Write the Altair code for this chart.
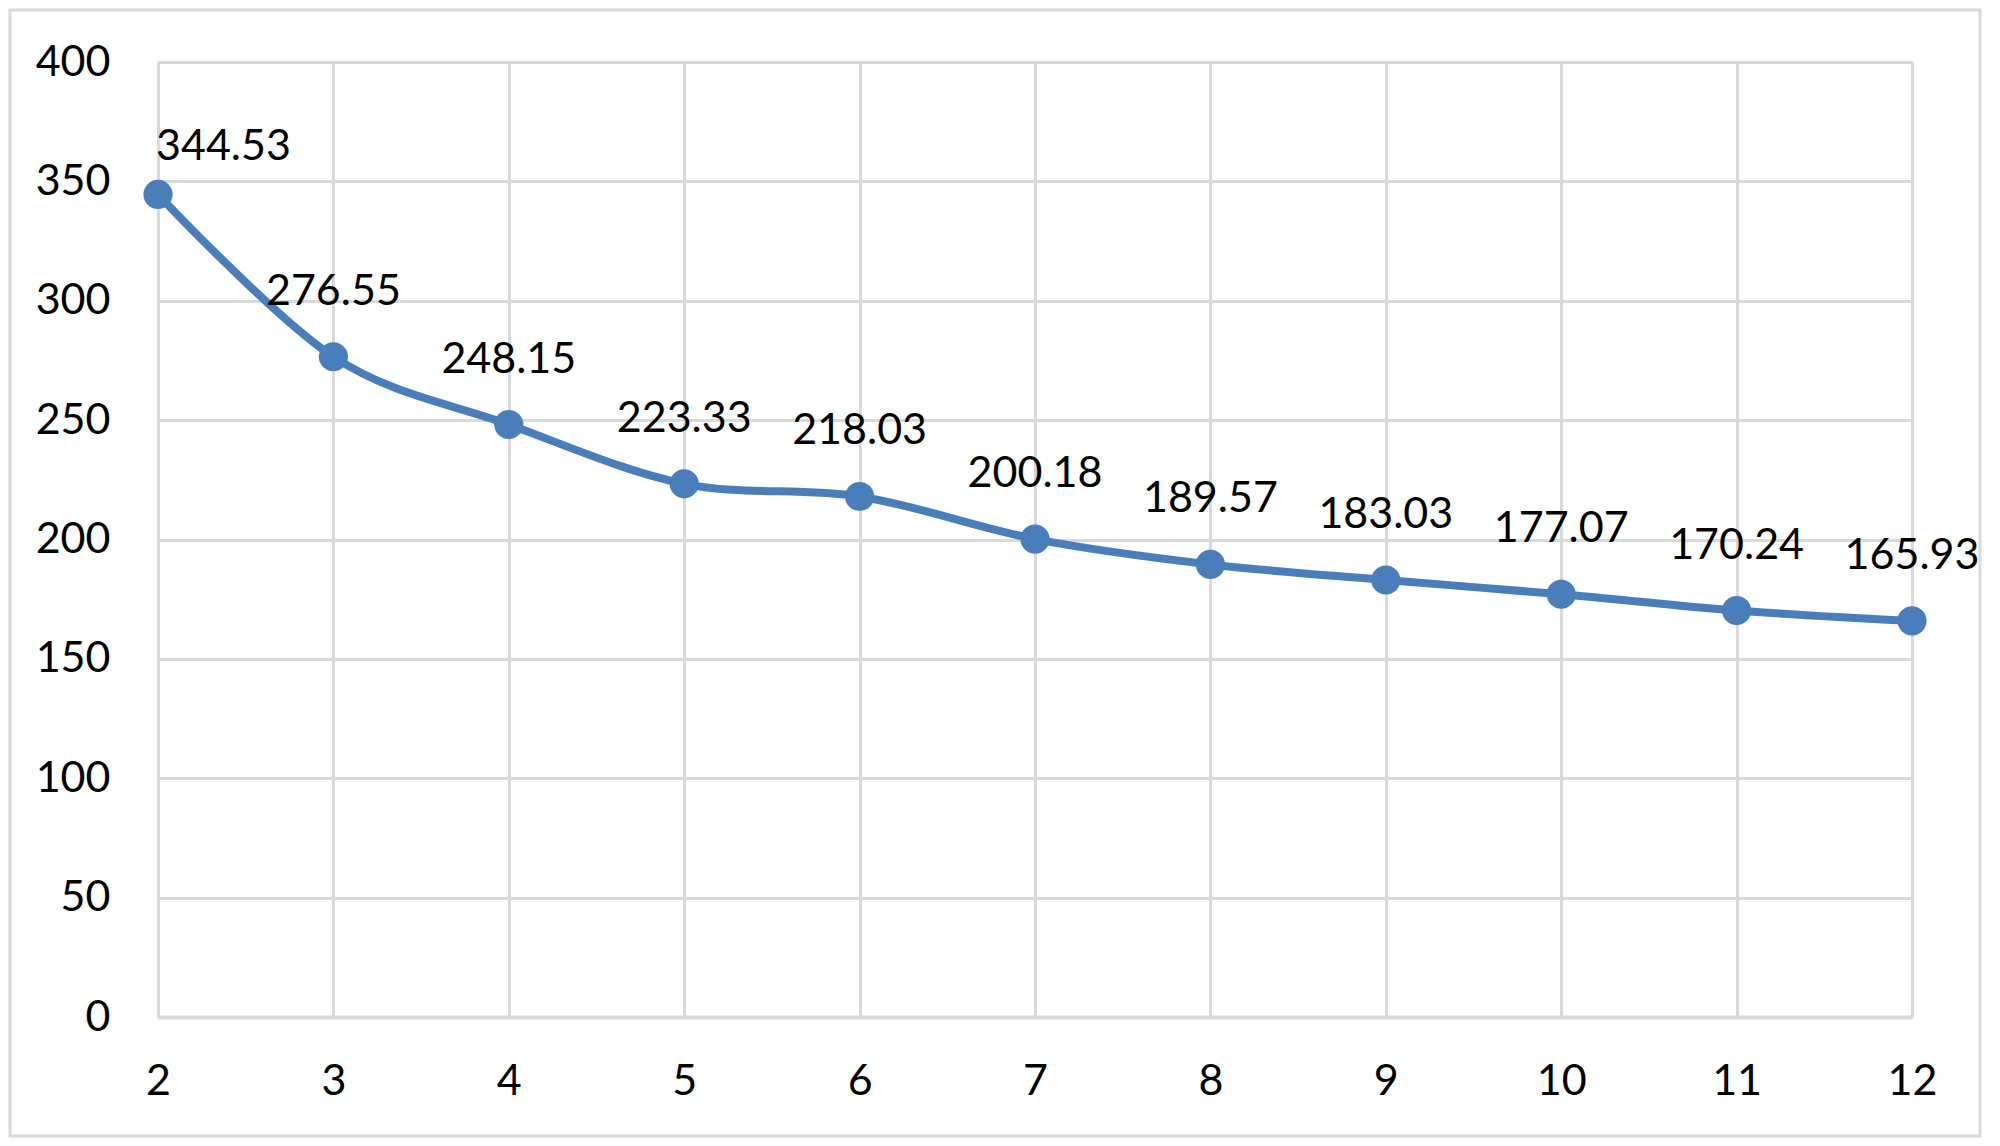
import altair as alt
import pandas as pd

xs = [2, 3, 4, 5, 6, 7, 8, 9, 10, 11, 12]
vals = [344.53, 276.55, 248.15, 223.33, 218.03, 200.18, 189.57, 183.03, 177.07, 170.24, 165.93]
labels = ["344.53", "276.55", "248.15", "223.33", "218.03", "200.18", "189.57", "183.03", "177.07", "170.24", "165.93"]

df = pd.DataFrame({"x": xs, "y": vals, "label": labels})
df["first"] = df["x"] == xs[0]

FONT = "Lato"
BLUE = "#4A7EBB"
GRID = "#D9D9D9"
FS = 43

xscale = alt.Scale(domain=[2, 12], nice=False, zero=False)
yscale = alt.Scale(domain=[0, 400], nice=False)

base = alt.Chart(df)

xaxis = alt.Axis(values=xs, format="d", grid=True, gridColor=GRID, gridWidth=3, domainColor=GRID, domainWidth=4,
                 ticks=False, labelFont=FONT, labelFontSize=FS, labelColor="#000000",
                 labelPadding=43, title=None, labelFlush=False)
yaxis = alt.Axis(values=list(range(0, 401, 50)), format="d", grid=True, gridColor=GRID, gridWidth=3,
                 domainColor=GRID, domainWidth=3, ticks=False, labelFont=FONT, labelFontSize=FS,
                 labelColor="#000000", labelPadding=48, title=None, labelFlush=False)

line = base.mark_line(color=BLUE, strokeWidth=8, interpolate="cardinal", tension=0).encode(
    x=alt.X("x:Q", scale=xscale, axis=xaxis),
    y=alt.Y("y:Q", scale=yscale, axis=yaxis),
)
pts = base.mark_circle(color=BLUE, opacity=1, size=850).encode(
    x=alt.X("x:Q", scale=xscale),
    y=alt.Y("y:Q", scale=yscale),
)
txt = base.transform_filter("!datum.first").mark_text(
    font=FONT, fontSize=FS, color="#000000", baseline="alphabetic", align="center", dy=-52
).encode(
    x=alt.X("x:Q", scale=xscale),
    y=alt.Y("y:Q", scale=yscale),
    text="label:N",
)
txt1 = base.transform_filter("datum.first").mark_text(
    font=FONT, fontSize=FS, color="#000000", baseline="alphabetic", align="left", dy=-34, dx=-2
).encode(
    x=alt.X("x:Q", scale=xscale),
    y=alt.Y("y:Q", scale=yscale),
    text="label:N",
)
frame = alt.Chart(pd.DataFrame({"a": [0]})).mark_rect(
    fill=None, filled=False, stroke=GRID, strokeWidth=3
).encode(
    x=alt.value(-148), x2=alt.value(1822), y=alt.value(-52), y2=alt.value(1074)
)

chart = alt.layer(frame, line, pts, txt, txt1).properties(
    width=1754, height=955,
    autosize=alt.AutoSizeParams(type="none"),
    padding={"left": 150, "top": 54, "right": 70, "bottom": 121},
).configure_view(stroke=None).configure(background="#FFFFFF")

chart.save("out.html", embed_options={"renderer": "svg", "actions": False})
